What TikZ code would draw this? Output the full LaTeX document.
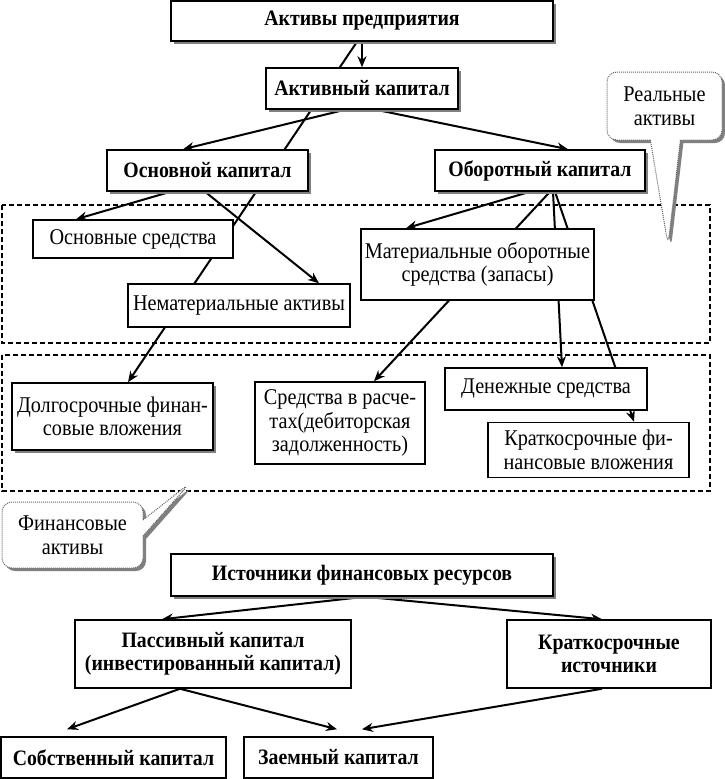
\documentclass[tikz,border=0pt]{standalone}
\usepackage{fontspec}
\setmainfont{Liberation Serif}
\newfontfamily\narrowserif[FakeStretch=0.9]{Liberation Serif}
\usetikzlibrary{arrows.meta}
\usetikzlibrary{shadows}
\usetikzlibrary{shapes.callouts}
\usetikzlibrary{backgrounds}

\begin{document}
\begin{tikzpicture}
[x=1pt,y=-1pt,
  onearrow/.style = {-{Stealth[length=11pt,width=9pt]},line width=2pt},
  r/.style = {rectangle,draw,fill=white,line width=1.5pt,align=center,inner sep=1pt,
        font={\narrowserif\fontsize{22.5}{23.5}\selectfont}},
  b/.style = {r,font={\narrowserif\bfseries\fontsize{22}{23.5}\selectfont}},
  sh/.style = {drop shadow={shadow xshift=3pt,shadow yshift=-3pt,fill=black!50,opacity=1}},
  group/.style = {line width=1.3pt,dash pattern=on 5pt off 3pt},
  note/.style = {rectangle callout,rounded corners=10pt,draw=black!60,densely dotted,
        line width=1pt,fill=white,align=center,font={\narrowserif\fontsize{22.5}{23.5}\selectfont},sh}]
\useasboundingbox (0,0) rectangle (724,779);

% real and financial assets
\draw[group] (2,205) rectangle (710,343);
\draw[group] (2,355) rectangle (710,491);

\node[b,sh,minimum width=382pt,minimum height=40pt] (AP) at (362,21) {Активы предприятия};
\node[b,sh,minimum width=192pt,minimum height=41pt] (AK) at (362,88.5) {Активный капитал};
\node[b,sh,minimum width=201pt,minimum height=41pt] (OSK) at (207.5,170.5) {Основной капитал};
\node[b,sh,minimum width=210pt,minimum height=41pt] (OBK) at (540,170.5) {Оборотный капитал};
%
\node[r,minimum width=200pt,minimum height=38pt] (OS) at (133,239) {Основные средства};
\node[r,minimum width=222pt,minimum height=43pt] (NA) at (239,305.5) {Нематериальные активы};
\node[r,minimum width=233pt,minimum height=71pt] (MOS) at (477.5,264.5) {Материальные оборотные\\средства (запасы)};
%
\node[r,sh,minimum width=201pt,minimum height=67pt] (DFV) at (112.5,416.5) {Долгосрочные финан-\\совые вложения};
\node[r,minimum width=170pt,minimum height=82pt] (SR) at (340,423) {Средства в расче-\\тах(дебиторская\\задолженность)};
\node[r,minimum width=202pt,minimum height=42pt] (DS) at (546,389) {Денежные средства};
\node[r,minimum width=201pt,minimum height=55pt] (KFV) at (588.5,450) {Краткосрочные фи-\\нансовые вложения};
%
\node[note,minimum width=115pt,minimum height=68pt,callout absolute pointer={(668,245)},
      callout pointer width=30pt] (RA) at (664.5,106) {Реальные\\активы};
\node[note,minimum width=141pt,minimum height=66pt,callout absolute pointer={(190,483)},
      callout pointer width=16pt] (FA) at (72.5,535) {Финансовые\\активы};
%
\node[b,sh,minimum width=382pt,minimum height=42pt] (IFR) at (362,575) {Источники финансовых ресурсов};
\node[b,minimum width=276pt,minimum height=68pt] (PK) at (213,654) {Пассивный капитал\\(инвестированный капитал)};
\node[b,minimum width=204pt,minimum height=68pt] (KI) at (609,654) {Краткосрочные\\источники};
\node[b,minimum width=225pt,minimum height=41pt] (SK) at (113.5,757.5) {Собственный капитал};
\node[b,minimum width=189pt,minimum height=41pt] (ZK) at (338.5,757.5) {Заемный капитал};

\begin{scope}[on background layer]
   \path[onearrow] (AP) edge (AK) ;
   \path[onearrow] ([xshift=-5pt]AP.south) edge ([xshift=15.5pt]DFV.north) ;
   \path[onearrow] ([xshift=-17pt]AK.south) edge ([xshift=-24.5pt]OSK.north) ;
   \path[onearrow] ([xshift=14pt]AK.south) edge ([xshift=28pt]OBK.north) ;
   \path[onearrow] ([xshift=-37pt]OSK.south) edge ([xshift=-57pt]OS.north) ;
   \path[onearrow] ([xshift=-2.5pt]OSK.south) edge ([xshift=80pt]NA.north) ;
   \path[onearrow] ([xshift=-10pt]OBK.south) edge ([xshift=-71.5pt]MOS.north) ;
   \path[onearrow] ([xshift=10pt]OBK.south) edge ([xshift=34pt]SR.north) ;
   \path[onearrow] ([xshift=13pt]OBK.south) edge ([xshift=16pt]DS.north) ;
   \path[onearrow] ([xshift=15pt]OBK.south) edge ([xshift=45.5pt]KFV.north) ;
%
   \path[onearrow] ([xshift=3pt]IFR.south) edge ([xshift=-51pt]PK.north) ;
   \path[onearrow] ([xshift=3pt]IFR.south) edge ([xshift=-7pt]KI.north) ;
   \path[onearrow] ([xshift=-33pt]PK.south) edge ([xshift=-46.5pt,yshift=7pt]SK.north) ;
   \path[onearrow] ([xshift=-33pt]PK.south) edge ([xshift=-1.5pt,yshift=7pt]ZK.north) ;
   \path[onearrow] ([xshift=-7pt]KI.south) edge ([xshift=23.5pt,yshift=7pt]ZK.north) ;
\end{scope}
\end{tikzpicture}
\end{document}
